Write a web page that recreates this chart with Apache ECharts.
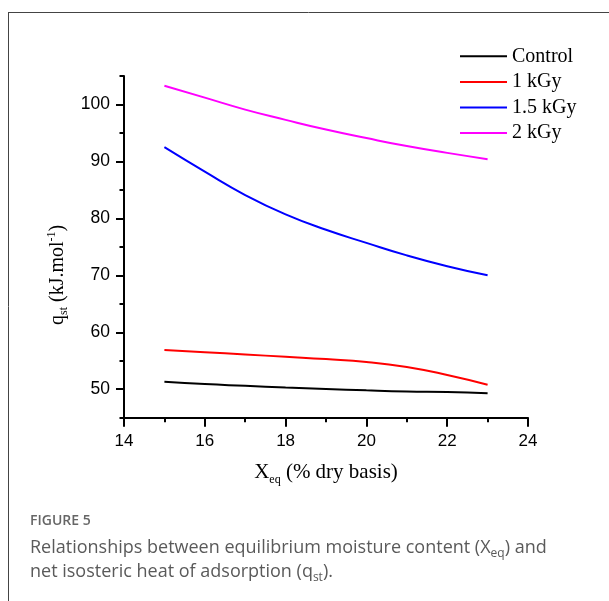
<!DOCTYPE html>
<html>
<head>
<meta charset="utf-8">
<script src="https://cdn.jsdelivr.net/npm/echarts@6/dist/echarts.min.js"></script>
<style>
  html, body { margin: 0; padding: 0; background: #fff; }
  #chart { width: 609px; height: 601px; }
</style>
</head>
<body>
<div id="chart"></div>
<script>
// moisture content (% dry basis)
const xeq = [15, 16, 17, 18, 19, 20, 21, 22, 23]
// net isosteric heat (kJ/mol) per dose
const control = [51.3, 50.9, 50.6, 50.3, 50.05, 49.8, 49.6, 49.5, 49.3]
const kGy1 = [56.9, 56.5, 56.1, 55.7, 55.3, 54.8, 53.9, 52.5, 50.8]
const kGy15 = [92.5, 88.2, 84.1, 80.7, 78.0, 75.7, 73.5, 71.6, 70.0]
const kGy2 = [103.3, 101.2, 99.1, 97.3, 95.6, 94.1, 92.7, 91.5, 90.4]

const names = ['Control', '1 kGy', '1.5 kGy', '2 kGy']
const colors = ['#000000', '#ff0000', '#0000ff', '#ff00ff']
const yMajor = [50, 60, 70, 80, 90, 100]
const yMinor = [45, 55, 65, 75, 85, 95, 105]

const serif = '"Liberation Serif", "Times New Roman", serif'
const sans = '"Liberation Sans", Arial, sans-serif'
const capFont = '"Open Sans", "Noto Sans", sans-serif'

function pairs (ys) {
  return xeq.map((x, i) => [x, ys[i]])
}

const myChart = echarts.init(document.getElementById('chart'), null, { renderer: 'canvas' })

const axisLine = { show: true, lineStyle: { color: '#000', width: 2 } }
const capRich = {
  a: { fontFamily: capFont, fontSize: 18, fill: '#5a5a5a', lineHeight: 24 },
  s: { fontFamily: capFont, fontSize: 12, fill: '#5a5a5a', lineHeight: 12, verticalAlign: 'bottom' }
}

const option = {
  animation: false,
  color: colors,
  grid: { left: 124, top: 76, width: 404, height: 341.7, containLabel: false },
  legend: {
    orient: 'vertical',
    left: 455,
    top: 38.5,
    icon: 'rect',
    itemWidth: 47,
    itemHeight: 2,
    itemGap: 0,
    data: names,
    textStyle: { fontFamily: serif, fontSize: 20, color: '#000', lineHeight: 25.6 }
  },
  xAxis: {
    type: 'value',
    min: 14,
    max: 24,
    interval: 2,
    name: '{a|X}{s|eq}{a| (% dry basis)}',
    nameLocation: 'middle',
    nameGap: 42,
    nameTextStyle: {
      rich: {
        a: { fontFamily: serif, fontSize: 21, color: '#000', lineHeight: 26 },
        s: { fontFamily: serif, fontSize: 12, color: '#000', lineHeight: 12, verticalAlign: 'bottom' }
      }
    },
    axisLine: axisLine,
    axisTick: { show: true, inside: false, length: 9, lineStyle: { color: '#000', width: 2 } },
    minorTick: { show: true, splitNumber: 2, length: 4.5, lineStyle: { color: '#000', width: 2 } },
    axisLabel: { margin: 15, fontFamily: sans, fontSize: 17, color: '#000' },
    splitLine: { show: false },
    minorSplitLine: { show: false }
  },
  yAxis: [
    {
      type: 'value',
      min: 45,
      max: 105,
      name: '{a|q}{s|st}{a| (kJ.mol}{p|-1}{a|)}',
      nameLocation: 'middle',
      nameGap: 54,
      nameRotate: 90,
      nameTextStyle: {
        padding: [0, 56, 0, 0],
        rich: {
          a: { fontFamily: serif, fontSize: 20, color: '#000', lineHeight: 24 },
          s: { fontFamily: serif, fontSize: 12, color: '#000', lineHeight: 12, verticalAlign: 'bottom' },
          p: { fontFamily: serif, fontSize: 12, color: '#000', lineHeight: 12, verticalAlign: 'top' }
        }
      },
      axisLine: axisLine,
      axisTick: { show: true, inside: false, length: 8, customValues: yMajor, lineStyle: { color: '#000', width: 2 } },
      axisLabel: { margin: 14, customValues: yMajor, fontFamily: sans, fontSize: 17.5, color: '#000' },
      splitLine: { show: false }
    },
    {
      type: 'value',
      min: 45,
      max: 105,
      position: 'left',
      axisLine: { show: false },
      axisTick: { show: true, inside: false, length: 4.5, customValues: yMinor, lineStyle: { color: '#000', width: 2 } },
      axisLabel: { show: false },
      splitLine: { show: false }
    }
  ],
  series: [control, kGy1, kGy15, kGy2].map((ys, i) => ({
    name: names[i],
    type: 'line',
    smooth: 0.5,
    symbol: 'none',
    yAxisIndex: 0,
    data: pairs(ys),
    lineStyle: { color: colors[i], width: 2 },
    itemStyle: { color: colors[i] }
  })),
  graphic: [
    { type: 'line', shape: { x1: 8, y1: 12.5, x2: 609, y2: 12.5 }, style: { stroke: '#444', lineWidth: 1 } },
    { type: 'line', shape: { x1: 8.5, y1: 12, x2: 8.5, y2: 601 }, style: { stroke: '#444', lineWidth: 1 } },
    {
      type: 'text', left: 30, top: 514,
      style: { text: 'FIGURE 5', font: '600 14px ' + capFont, fill: '#666' }
    },
    {
      type: 'text', left: 30, top: 539,
      style: { text: '{a|Relationships between equilibrium moisture content (X}{s|eq}{a|) and}', rich: capRich }
    },
    {
      type: 'text', left: 30, top: 563,
      style: { text: '{a|net isosteric heat of adsorption (q}{s|st}{a|).}', rich: capRich }
    }
  ]
}

myChart.setOption(option)
</script>
</body>
</html>
